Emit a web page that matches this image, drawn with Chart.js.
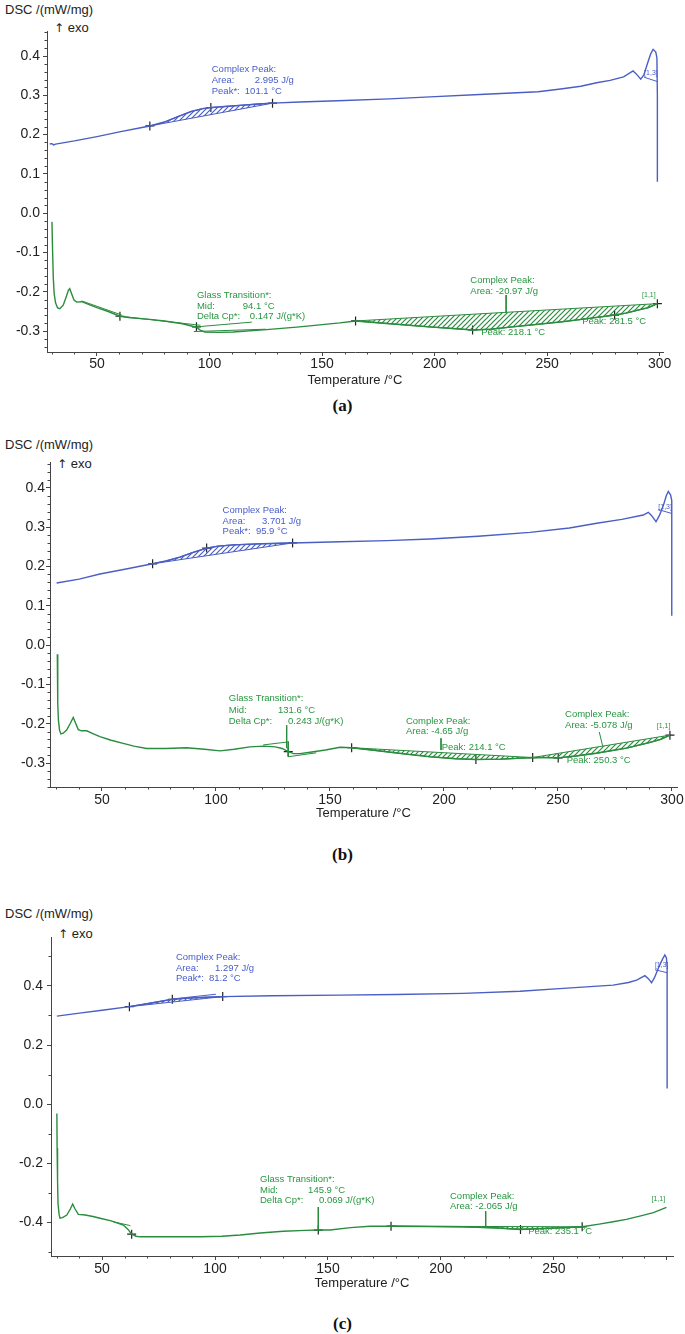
<!DOCTYPE html>
<html><head><meta charset="utf-8">
<script src="https://cdn.jsdelivr.net/npm/chart.js@4.4.1/dist/chart.umd.min.js"></script>
<style>
body{margin:0;background:#fff;width:685px;height:1334px;position:relative;overflow:hidden;font-family:"Liberation Sans",Arial,sans-serif;}
canvas{position:absolute;left:0;}
.lbl{position:absolute;font-size:13px;color:#222;white-space:nowrap;line-height:1;}
.arr{font-family:"DejaVu Sans",sans-serif;font-size:12px;}
.cap{position:absolute;left:0;width:685px;text-align:center;font-family:"Liberation Serif","Times New Roman",serif;font-weight:bold;font-size:17px;color:#111;line-height:1;}
</style></head><body>
<div class="lbl" style="left:5px;top:3px">DSC /(mW/mg)</div>
<div class="lbl" style="left:54px;top:21px"><span class="arr">↑</span> exo</div>
<div class="lbl" style="left:5px;top:438px">DSC /(mW/mg)</div>
<div class="lbl" style="left:57px;top:457px"><span class="arr">↑</span> exo</div>
<div class="lbl" style="left:5px;top:907px">DSC /(mW/mg)</div>
<div class="lbl" style="left:58px;top:927px"><span class="arr">↑</span> exo</div>
<div class="cap" style="top:397px">(a)</div>
<div class="cap" style="top:846px">(b)</div>
<div class="cap" style="top:1315px">(c)</div>
<canvas id="ca" width="685" height="430" style="top:0px"></canvas>
<canvas id="cb" width="685" height="450" style="top:430px"></canvas>
<canvas id="cc" width="685" height="454" style="top:880px"></canvas>
<script>
// ---------- tick values / labels ----------
const X_TICKS = [50,100,150,200,250,300];
const X_LABELS_AB = ['50','100','150','200','250','300'];
const X_LABELS_C = ['50','100','150','200','250',''];
const Y_TICKS_AB = [-0.3,-0.2,-0.1,0.0,0.1,0.2,0.3,0.4];
const Y_LABELS_AB = ['-0.3','-0.2','-0.1','0.0','0.1','0.2','0.3','0.4'];
const Y_TICKS_C = [-0.4,-0.2,0.0,0.2,0.4];
const Y_LABELS_C = ['-0.4','-0.2','0.0','0.2','0.4'];

// ---------- panel (a) ----------
const blueA = [[29.0,0.176],[30.0,0.177],[30.8,0.174],[31.6,0.176],[40,0.184],[50,0.195],[60,0.207],[70,0.218],[73.5,0.222],[80,0.232],[86,0.246],[92,0.259],[97,0.266],[101,0.269],[108,0.272],[115,0.275],[122,0.278],[128,0.280],[140,0.283],[157,0.286],[180,0.291],[198,0.296],[220,0.302],[246,0.309],[256,0.316],[265,0.323],[272,0.332],[278,0.338],[284,0.347],[288.2,0.362],[290,0.352],[291.6,0.341],[293,0.352],[294.6,0.381],[296,0.405],[297.1,0.417],[298.3,0.410],[298.8,0.395],[299,0.30],[299,0.08]];
const blueABase = [[73.5,0.222],[128,0.280]];
const blueAMarks = [[73.5,0.222],[100.6,0.269],[128,0.280]];
const greenA = [[30.0,-0.022],[30.3,-0.10],[30.6,-0.165],[31.0,-0.205],[31.6,-0.228],[32.5,-0.241],[33.5,-0.243],[35,-0.234],[36.2,-0.215],[37.3,-0.196],[37.9,-0.192],[38.6,-0.203],[39.8,-0.221],[41,-0.226],[43.2,-0.225],[46,-0.231],[50,-0.240],[55,-0.250],[60.2,-0.262],[65,-0.266],[73.5,-0.270],[80,-0.274],[88,-0.281],[94.2,-0.290],[96,-0.298],[98,-0.302],[104,-0.303],[110.5,-0.302],[125.3,-0.296],[140,-0.289],[157.9,-0.279],[164.9,-0.274],[180,-0.281],[197.7,-0.289],[210,-0.294],[216.9,-0.297],[225,-0.295],[234.6,-0.289],[245,-0.283],[256.8,-0.276],[268,-0.268],[280,-0.259],[285,-0.254],[290.8,-0.246],[295,-0.240],[299,-0.230]];
const greenABase = [[164.9,-0.274],[299,-0.230]];
const greenAMarks = [[60.2,-0.262],[94.2,-0.289],[164.9,-0.274],[216.9,-0.297],[280,-0.259],[299,-0.230]];
const greenATangents = [[[43.2,-0.223],[61,-0.259]],[[60.2,-0.262],[96,-0.285]],[[93,-0.301],[125,-0.295]]];
const greenALeaders = [[[231.8,-0.208],[231.8,-0.253]],[[94.2,-0.289],[118.8,-0.277]]];
const blueAHooks = [[[293.1,0.346],[299,0.335]]];

// ---------- panel (b) ----------
const blueB = [[30.1,0.158],[40,0.168],[49.1,0.181],[60,0.193],[72.2,0.207],[78,0.214],[84.2,0.224],[90,0.236],[95.9,0.247],[101,0.252],[107.6,0.255],[120,0.258],[133.6,0.260],[154.4,0.263],[175,0.266],[193.9,0.270],[215,0.277],[237.7,0.287],[255,0.298],[267,0.310],[278,0.320],[287.4,0.331],[289.6,0.338],[291,0.330],[293,0.314],[294.5,0.330],[296.2,0.355],[297.5,0.380],[298.4,0.391],[299.4,0.382],[299.9,0.368],[299.9,0.075]];
const blueBBase = [[72.2,0.207],[133.6,0.260]];
const blueBMarks = [[72.2,0.207],[95.9,0.247],[133.6,0.260]];
const greenB = [[30.4,-0.023],[30.5,-0.089],[30.7,-0.150],[30.9,-0.191],[31.4,-0.217],[32,-0.226],[33,-0.224],[34.5,-0.216],[36,-0.200],[37.4,-0.184],[38.3,-0.197],[39.6,-0.215],[41,-0.218],[43.3,-0.218],[46,-0.225],[49.1,-0.233],[54,-0.242],[59.3,-0.250],[64,-0.257],[69.6,-0.263],[78,-0.263],[87.1,-0.261],[95,-0.265],[101.8,-0.269],[108,-0.265],[114.9,-0.259],[121,-0.257],[126,-0.259],[129,-0.263],[131.7,-0.271],[134,-0.276],[136.8,-0.276],[142,-0.272],[148,-0.267],[154.4,-0.260],[159.5,-0.261],[170,-0.268],[183,-0.277],[193.9,-0.284],[205,-0.289],[214,-0.291],[225,-0.290],[238.9,-0.286],[245,-0.286],[250.1,-0.287],[258,-0.282],[266.9,-0.275],[280,-0.262],[290,-0.248],[295,-0.240],[299.1,-0.229]];
const greenBBase1 = [[159.5,-0.261],[238.9,-0.286]];
const greenBBase2 = [[238.9,-0.286],[299.1,-0.229]];
const greenBMarks = [[131.7,-0.271],[159.5,-0.261],[214,-0.291],[238.9,-0.286],[250.1,-0.287],[299.1,-0.229]];
const greenBTangents = [[[120.7,-0.254],[132,-0.246]],[[131.7,-0.246],[131.7,-0.284]],[[131.7,-0.284],[144,-0.274]]];
const greenBLeaders = [[[131,-0.204],[131,-0.262]],[[198.7,-0.237],[198.7,-0.267]],[[268.1,-0.221],[269.6,-0.257]]];
const blueBHooks = [[[294,0.345],[299.9,0.335]]];

// ---------- panel (c) ----------
const blueC = [[30,0.298],[40,0.308],[50,0.318],[62.1,0.330],[70,0.340],[81.1,0.355],[90,0.360],[103.4,0.364],[125,0.367],[155.3,0.369],[180,0.371],[209.9,0.375],[235,0.382],[254.1,0.392],[276.2,0.403],[283,0.412],[286.6,0.420],[290.3,0.435],[291.8,0.425],[293.2,0.411],[294.5,0.428],[296.2,0.460],[298,0.490],[299.1,0.505],[299.8,0.495],[300.1,0.465],[300.1,0.053]];
const blueCBase = [[62.1,0.330],[103.4,0.364]];
const blueCMarks = [[62.1,0.330],[81.1,0.355],[103.4,0.364]];
const greenC = [[30,-0.032],[30.1,-0.15],[30.3,-0.26],[30.5,-0.337],[31,-0.375],[31.4,-0.387],[32.5,-0.385],[34.4,-0.376],[36,-0.355],[37,-0.339],[38,-0.355],[39.5,-0.374],[42.5,-0.376],[46,-0.381],[49.1,-0.387],[54,-0.396],[59.4,-0.410],[61.5,-0.425],[63.1,-0.441],[65,-0.448],[66.8,-0.450],[80,-0.450],[93.4,-0.450],[103,-0.448],[111.1,-0.444],[120,-0.437],[130.2,-0.431],[140,-0.428],[145.7,-0.427],[150.9,-0.427],[160,-0.419],[168.6,-0.414],[177.9,-0.414],[195,-0.415],[209.9,-0.416],[225,-0.420],[235.2,-0.425],[245,-0.422],[255,-0.419],[262.5,-0.416],[270,-0.407],[276.2,-0.399],[282,-0.391],[288,-0.380],[294,-0.368],[299.8,-0.350]];
const greenCBase = [[177.9,-0.414],[262.5,-0.416]];
const greenCMarks = [[63.1,-0.441],[145.7,-0.427],[177.9,-0.414],[235.2,-0.425],[262.5,-0.416]];
const greenCTangents = [[[55,-0.399],[62.5,-0.412]]];
const greenCLeaders = [[[145.7,-0.349],[145.7,-0.427]],[[219.8,-0.363],[219.8,-0.417]]];
const blueCHooks = [[[81.1,0.356],[100.4,0.372]],[[294.7,0.455],[300.1,0.445]]];

// ---------- styling ----------
const BLUE = 'rgb(74,94,196)';
const GREEN = 'rgb(42,140,62)';
const BLUE_T = 'rgb(72,92,204)';
const GREEN_T = 'rgb(40,150,64)';
const FONT = '"Liberation Sans", Arial, sans-serif';

function hatch(color){
  const c=document.createElement('canvas'); c.width=5; c.height=5;
  const g=c.getContext('2d'); g.strokeStyle=color; g.lineWidth=1.2;
  g.beginPath(); g.moveTo(-1,6); g.lineTo(6,-1); g.moveTo(-1,1); g.lineTo(1,-1); g.moveTo(4,6); g.lineTo(6,4); g.stroke();
  return g.createPattern(c,'repeat');
}
const pts = a => a.map(p=>({x:p[0],y:p[1]}));
const between = (curve, base) => curve.filter(p=>p[0]>=base[0][0] && p[0]<=base[1][0]);
const segs = list => { const out=[]; list.forEach((s,i)=>{ if(i) out.push({x:s[0][0],y:null}); s.forEach(p=>out.push({x:p[0],y:p[1]})); }); return out; };

const minorTicks = {
  id:'minorTicks',
  afterDraw(chart, args, o){
    const ctx=chart.ctx, xs=chart.scales.x, ys=chart.scales.y;
    ctx.save(); ctx.strokeStyle='#444'; ctx.lineWidth=1;
    for(let k=Math.ceil(xs.min/o.xStep); k*o.xStep<=xs.max; k++){
      const v=k*o.xStep; if(Math.abs(v/o.xMajor-Math.round(v/o.xMajor))<1e-6) continue;
      const px=Math.round(xs.getPixelForValue(v))+0.5;
      ctx.beginPath(); ctx.moveTo(px,xs.top); ctx.lineTo(px,xs.top+2.5); ctx.stroke();
    }
    for(let k=Math.ceil(ys.min/o.yStep); k*o.yStep<=ys.max+1e-9; k++){
      const v=k*o.yStep; if(Math.abs(v/o.yMajor-Math.round(v/o.yMajor))<1e-6) continue;
      const py=Math.round(ys.getPixelForValue(v))+0.5;
      ctx.beginPath(); ctx.moveTo(ys.right,py); ctx.lineTo(ys.right-2.5,py); ctx.stroke();
    }
    ctx.restore();
  }
};
const notes = {
  id:'notes',
  afterDatasetsDraw(chart, args, o){
    const ctx=chart.ctx, xs=chart.scales.x, ys=chart.scales.y;
    ctx.save(); ctx.textBaseline='middle'; ctx.textAlign='left';
    o.items.forEach(it=>{
      ctx.font=(it.s||9.5)+'px '+FONT; ctx.fillStyle=it.c;
      ctx.fillText(it.t, xs.getPixelForValue(it.x), ys.getPixelForValue(it.y));
    });
    ctx.restore();
  }
};

function build(id, P){
  const H = document.getElementById(id).height;
  const ds = [];
  const line = (data,color,w,extra) => Object.assign({type:'line',data:data,borderColor:color,borderWidth:w,pointRadius:0,tension:0,fill:false,spanGaps:false},extra||{});
  ds.push(line(pts(P.blue),BLUE,1.4));
  ds.push(line(pts(P.green),GREEN,1.4));
  P.fills.forEach(f=>{
    const baseIdx = ds.length+1;
    ds.push(line(pts(between(f.curve,f.base)),f.color,1.2,{fill:baseIdx,backgroundColor:hatch(f.color)}));
    ds.push(line(pts(f.base),f.color,1));
  });
  P.thin.forEach(t=>ds.push(line(segs(t.s),t.c,1)));
  P.marks.forEach(m=>ds.push({type:'line',data:pts(m),showLine:false,pointStyle:'cross',pointRadius:4.5,borderColor:'#222',borderWidth:1.2}));
  const A=P.area;
  return new Chart(document.getElementById(id),{
    data:{datasets:ds},
    plugins:[minorTicks,notes],
    options:{
      responsive:false, animation:false, devicePixelRatio:1,
      layout:{padding:{top:A.top,right:685-A.right,left:0,bottom:0}},
      plugins:{legend:{display:false},tooltip:{enabled:false},
        minorTicks:P.minor, notes:{items:P.notes}},
      scales:{
        x:{type:'linear',min:P.xr[0],max:P.xr[1],
          afterBuildTicks:s=>{s.ticks=X_TICKS.map(v=>({value:v}));},
          afterFit:s=>{s.height=H-A.bottom;},
          ticks:{autoSkip:false,maxRotation:0,padding:P.xpad,color:'#222',font:{family:FONT,size:14},callback:(v,i)=>P.xl[i]},
          grid:{drawOnChartArea:false,drawTicks:true,tickLength:4,color:'#444'},
          border:{display:true,color:'#444',width:1},
          title:{display:true,text:'Temperature /°C',color:'#222',font:{family:FONT,size:13},padding:{top:0,bottom:P.tpad}}
        },
        y:{type:'linear',min:P.yr[0],max:P.yr[1],
          afterBuildTicks:s=>{s.ticks=P.yt.map(v=>({value:v}));},
          afterFit:s=>{s.width=A.left;},
          ticks:{autoSkip:false,padding:P.ypad,color:'#222',font:{family:FONT,size:14},callback:(v,i)=>P.yl[i]},
          grid:{drawOnChartArea:false,drawTicks:true,tickLength:4,color:'#444'},
          border:{display:true,color:'#444',width:1}
        }
      }
    }
  });
}

// panel a
build('ca',{
  area:{left:47,right:663,top:31,bottom:352}, xr:[27.8,301.5], yr:[-0.353,0.4636],
  xl:X_LABELS_AB, yt:Y_TICKS_AB, yl:Y_LABELS_AB, xpad:0, ypad:3, tpad:42.2,
  minor:{xStep:10,xMajor:50,yStep:0.02,yMajor:0.1},
  blue:blueA, green:greenA,
  fills:[{curve:blueA,base:blueABase,color:BLUE},{curve:greenA,base:greenABase,color:GREEN}],
  thin:[{s:greenATangents,c:GREEN},{s:greenALeaders,c:GREEN},{s:blueAHooks,c:BLUE}],
  marks:[blueAMarks,greenAMarks],
  notes:[
    {x:101.0,y:0.366,t:'Complex Peak:',c:BLUE_T},{x:101.0,y:0.338,t:'Area:',c:BLUE_T},{x:120.1,y:0.338,t:'2.995 J/g',c:BLUE_T},
    {x:101.0,y:0.311,t:'Peak*:',c:BLUE_T},{x:115.7,y:0.311,t:'101.1 °C',c:BLUE_T},{x:293.1,y:0.357,t:'[1,3]',c:BLUE_T,s:7},
    {x:94.4,y:-0.208,t:'Glass Transition*:',c:GREEN_T},{x:94.4,y:-0.236,t:'Mid:',c:GREEN_T},{x:114.8,y:-0.236,t:'94.1 °C',c:GREEN_T},
    {x:94.4,y:-0.263,t:'Delta Cp*:',c:GREEN_T},{x:117.9,y:-0.263,t:'0.147 J/(g*K)',c:GREEN_T},
    {x:215.9,y:-0.170,t:'Complex Peak:',c:GREEN_T},{x:215.9,y:-0.198,t:'Area: -20.97 J/g',c:GREEN_T},
    {x:220.7,y:-0.302,t:'Peak: 218.1 °C',c:GREEN_T},{x:265.6,y:-0.276,t:'Peak: 281.5 °C',c:GREEN_T},
    {x:292.2,y:-0.208,t:'[1,1]',c:GREEN_T,s:7}
  ]
});
// panel b
build('cb',{
  area:{left:50,right:677,top:32,bottom:357}, xr:[27.2,302.2], yr:[-0.361,0.466],
  xl:X_LABELS_AB, yt:Y_TICKS_AB, yl:Y_LABELS_AB, xpad:1, ypad:1, tpad:59.2,
  minor:{xStep:10,xMajor:50,yStep:0.02,yMajor:0.1},
  blue:blueB, green:greenB,
  fills:[{curve:blueB,base:blueBBase,color:BLUE},{curve:greenB,base:greenBBase1,color:GREEN},{curve:greenB,base:greenBBase2,color:GREEN}],
  thin:[{s:greenBTangents,c:GREEN},{s:greenBLeaders,c:GREEN},{s:blueBHooks,c:BLUE}],
  marks:[blueBMarks,greenBMarks],
  notes:[
    {x:102.9,y:0.344,t:'Complex Peak:',c:BLUE_T},{x:102.9,y:0.316,t:'Area:',c:BLUE_T},{x:120.2,y:0.316,t:'3.701 J/g',c:BLUE_T},
    {x:102.9,y:0.290,t:'Peak*:',c:BLUE_T},{x:117.5,y:0.290,t:'95.9 °C',c:BLUE_T},{x:294,y:0.352,t:'[1,3]',c:BLUE_T,s:7},
    {x:105.6,y:-0.136,t:'Glass Transition*:',c:GREEN_T},{x:105.6,y:-0.165,t:'Mid:',c:GREEN_T},{x:127.2,y:-0.165,t:'131.6 °C',c:GREEN_T},
    {x:105.6,y:-0.193,t:'Delta Cp*:',c:GREEN_T},{x:131.6,y:-0.193,t:'0.243 J/(g*K)',c:GREEN_T},
    {x:183.3,y:-0.193,t:'Complex Peak:',c:GREEN_T},{x:183.3,y:-0.220,t:'Area: -4.65 J/g',c:GREEN_T},{x:199.0,y:-0.259,t:'Peak: 214.1 °C',c:GREEN_T},
    {x:253.1,y:-0.176,t:'Complex Peak:',c:GREEN_T},{x:253.1,y:-0.205,t:'Area: -5.078 J/g',c:GREEN_T},{x:253.8,y:-0.293,t:'Peak: 250.3 °C',c:GREEN_T},
    {x:293.3,y:-0.206,t:'[1,1]',c:GREEN_T,s:7}
  ]
});
// panel c
build('cc',{
  area:{left:51,right:673,top:57,bottom:376}, xr:[27.4,302.7], yr:[-0.515,0.566],
  xl:X_LABELS_C, yt:Y_TICKS_C, yl:Y_LABELS_C, xpad:1, ypad:4, tpad:43.2,
  minor:{xStep:10,xMajor:50,yStep:0.1,yMajor:0.2},
  blue:blueC, green:greenC,
  fills:[{curve:blueC,base:blueCBase,color:BLUE},{curve:greenC,base:greenCBase,color:GREEN}],
  thin:[{s:greenCTangents,c:GREEN},{s:greenCLeaders,c:GREEN},{s:blueCHooks,c:BLUE}],
  marks:[blueCMarks,greenCMarks],
  notes:[
    {x:82.7,y:0.497,t:'Complex Peak:',c:BLUE_T},{x:82.7,y:0.461,t:'Area:',c:BLUE_T},{x:100,y:0.461,t:'1.297 J/g',c:BLUE_T},
    {x:82.7,y:0.426,t:'Peak*:',c:BLUE_T},{x:97.3,y:0.426,t:'81.2 °C',c:BLUE_T},{x:294.7,y:0.471,t:'[1,3]',c:BLUE_T,s:7},
    {x:119.9,y:-0.255,t:'Glass Transition*:',c:GREEN_T},{x:119.9,y:-0.292,t:'Mid:',c:GREEN_T},{x:141.2,y:-0.292,t:'145.9 °C',c:GREEN_T},
    {x:119.9,y:-0.325,t:'Delta Cp*:',c:GREEN_T},{x:146,y:-0.325,t:'0.069 J/(g*K)',c:GREEN_T},
    {x:204,y:-0.312,t:'Complex Peak:',c:GREEN_T},{x:204,y:-0.348,t:'Area: -2.065 J/g',c:GREEN_T},{x:238.6,y:-0.433,t:'Peak: 235.1 °C',c:GREEN_T},
    {x:293.2,y:-0.323,t:'[1,1]',c:GREEN_T,s:7}
  ]
});
</script>
</body></html>
